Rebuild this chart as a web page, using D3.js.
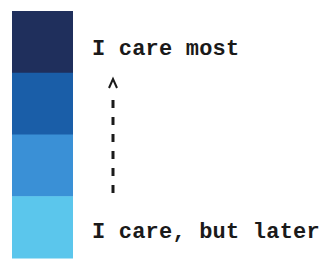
<!DOCTYPE html>
<html>
<head>
<meta charset="utf-8">
<script src="https://cdn.jsdelivr.net/npm/d3@7"></script>
<style>
  body { margin: 0; background: #fff; }
  text { font-family: "Liberation Mono", "DejaVu Sans Mono", monospace; }
</style>
</head>
<body>
<div id="legend"></div>
<script>
// priority levels, top (most) to bottom (later)
const levels = ['most', 'high', 'medium', 'later'];
const levelColors = ['#1f2f5c', '#1a5ea8', '#3a90d6', '#5bc6ec'];
const labels = ['I care most', 'I care, but later'];

const width = 334,
  height = 261;

const svg = d3
  .select('#legend')
  .append('svg')
  .attr('width', width)
  .attr('height', height);

const y = d3.scaleBand().domain(levels).range([11, 258]);
const color = d3.scaleOrdinal().domain(levels).range(levelColors);

svg
  .append('g')
  .selectAll('rect')
  .data(levels)
  .join('rect')
  .attr('x', 12)
  .attr('y', (d) => y(d))
  .attr('width', 61)
  .attr('height', y.bandwidth() + 0.5)
  .attr('fill', (d) => color(d));

// labels at the top and bottom
svg
  .append('g')
  .selectAll('text')
  .data(labels)
  .join('text')
  .attr('x', 92)
  .attr('y', (d, i) => (i === 0 ? 55 : 238))
  .attr('font-size', 22)
  .attr('font-weight', 'bold')
  .attr('letter-spacing', 0.2)
  .attr('fill', '#1a1a1a')
  .text((d) => d);

// dashed arrow pointing up
const ax = 113;
svg
  .append('line')
  .attr('x1', ax)
  .attr('x2', ax)
  .attr('y1', 193)
  .attr('y2', 92)
  .attr('stroke', '#1a1a1a')
  .attr('stroke-width', 3)
  .attr('stroke-dasharray', '8,9');

svg
  .append('path')
  .attr('d', `M${ax - 4},88 L${ax},79 L${ax + 4},88`)
  .attr('fill', 'none')
  .attr('stroke', '#1a1a1a')
  .attr('stroke-width', 2);
</script>
</body>
</html>
